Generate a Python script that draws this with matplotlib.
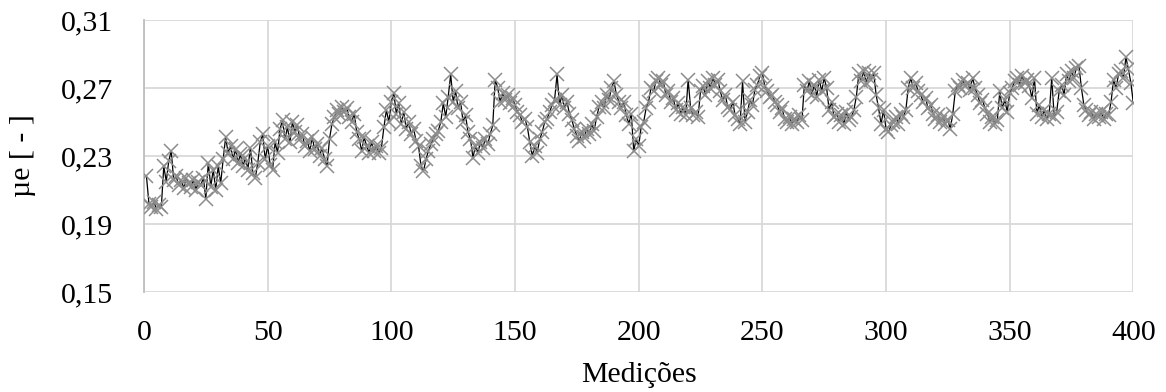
import numpy as np
import matplotlib
matplotlib.use("Agg")
import matplotlib.pyplot as plt
from matplotlib.ticker import FuncFormatter, MultipleLocator

mu_e = [
    0.218, 0.202, 0.200, 0.203, 0.199, 0.201, 0.200, 0.224, 0.215, 0.227,
    0.233, 0.216, 0.218, 0.213, 0.216, 0.211, 0.217, 0.214, 0.212, 0.216,
    0.210, 0.215, 0.213, 0.217, 0.205, 0.226, 0.212, 0.222, 0.210, 0.224,
    0.214, 0.228, 0.241, 0.232, 0.236, 0.228, 0.234, 0.226, 0.231, 0.224,
    0.229, 0.222, 0.235, 0.220, 0.217, 0.226, 0.238, 0.243, 0.228, 0.236,
    0.225, 0.222, 0.238, 0.232, 0.246, 0.251, 0.240, 0.247, 0.238, 0.250,
    0.244, 0.248, 0.240, 0.243, 0.236, 0.239, 0.233, 0.241, 0.234, 0.237,
    0.230, 0.235, 0.228, 0.224, 0.240, 0.249, 0.253, 0.257, 0.255, 0.259,
    0.256, 0.258, 0.253, 0.250, 0.255, 0.244, 0.240, 0.233, 0.241, 0.236,
    0.232, 0.238, 0.233, 0.236, 0.232, 0.235, 0.247, 0.257, 0.250, 0.262,
    0.267, 0.255, 0.261, 0.249, 0.256, 0.246, 0.250, 0.243, 0.246, 0.239,
    0.236, 0.224, 0.221, 0.228, 0.233, 0.237, 0.240, 0.243, 0.245, 0.250,
    0.261, 0.253, 0.265, 0.278, 0.262, 0.268, 0.258, 0.262, 0.250, 0.254,
    0.244, 0.240, 0.229, 0.236, 0.232, 0.238, 0.235, 0.240, 0.237, 0.243,
    0.248, 0.275, 0.270, 0.262, 0.267, 0.263, 0.266, 0.261, 0.264, 0.260,
    0.256, 0.254, 0.250, 0.252, 0.247, 0.238, 0.230, 0.236, 0.232, 0.240,
    0.244, 0.250, 0.252, 0.256, 0.260, 0.263, 0.278, 0.260, 0.266, 0.258,
    0.262, 0.255, 0.251, 0.246, 0.242, 0.239, 0.244, 0.241, 0.246, 0.243,
    0.249, 0.245, 0.253, 0.259, 0.262, 0.258, 0.266, 0.263, 0.270, 0.274,
    0.266, 0.262, 0.258, 0.262, 0.254, 0.249, 0.255, 0.233, 0.240, 0.236,
    0.247, 0.250, 0.258, 0.262, 0.270, 0.268, 0.274, 0.276, 0.272, 0.274,
    0.266, 0.268, 0.262, 0.264, 0.257, 0.261, 0.255, 0.259, 0.254, 0.275,
    0.258, 0.254, 0.256, 0.253, 0.268, 0.271, 0.266, 0.274, 0.270, 0.276,
    0.272, 0.275, 0.268, 0.263, 0.266, 0.259, 0.257, 0.262, 0.254, 0.252,
    0.249, 0.274, 0.250, 0.256, 0.263, 0.260, 0.269, 0.272, 0.277, 0.279,
    0.271, 0.268, 0.265, 0.266, 0.262, 0.260, 0.256, 0.258, 0.252, 0.250,
    0.253, 0.249, 0.252, 0.250, 0.254, 0.251, 0.272, 0.268, 0.274, 0.266,
    0.272, 0.265, 0.275, 0.268, 0.276, 0.270, 0.257, 0.262, 0.253, 0.255,
    0.250, 0.254, 0.249, 0.256, 0.251, 0.253, 0.257, 0.265, 0.278, 0.274,
    0.280, 0.273, 0.279, 0.275, 0.279, 0.266, 0.258, 0.249, 0.257, 0.246,
    0.244, 0.248, 0.250, 0.253, 0.249, 0.255, 0.253, 0.257, 0.270, 0.276,
    0.270, 0.273, 0.268, 0.266, 0.262, 0.264, 0.258, 0.260, 0.255, 0.252,
    0.254, 0.250, 0.253, 0.249, 0.251, 0.246, 0.255, 0.268, 0.272, 0.270,
    0.275, 0.271, 0.273, 0.269, 0.276, 0.270, 0.266, 0.261, 0.263, 0.258,
    0.255, 0.250, 0.253, 0.249, 0.251, 0.268, 0.258, 0.263, 0.256, 0.267,
    0.270, 0.274, 0.276, 0.272, 0.277, 0.273, 0.275, 0.271, 0.264, 0.276,
    0.255, 0.260, 0.253, 0.257, 0.252, 0.255, 0.276, 0.253, 0.256, 0.268,
    0.272, 0.266, 0.278, 0.274, 0.280, 0.276, 0.282, 0.283, 0.270, 0.260,
    0.257, 0.254, 0.256, 0.252, 0.255, 0.253, 0.256, 0.252, 0.255, 0.254,
    0.262, 0.275, 0.270, 0.278, 0.280, 0.276, 0.288, 0.281, 0.273, 0.261,
]
medicoes = np.arange(1, len(mu_e) + 1)

plt.rcParams['font.family'] = ['Liberation Serif', 'DejaVu Serif']

fig = plt.figure(figsize=(11.66, 3.92), dpi=100)
ax = fig.add_axes([0.1235, 0.255, 0.8485, 0.694])

ax.plot(medicoes, mu_e, color='black', linewidth=0.9, marker='x',
        markersize=10, markeredgecolor='#8c8c8c', markeredgewidth=1.1, zorder=3)

ax.set_xlim(0, 400)
ax.set_ylim(0.15, 0.31)
ax.xaxis.set_major_locator(MultipleLocator(50))
ax.set_yticks([0.15, 0.19, 0.23, 0.27, 0.31])
ax.yaxis.set_major_formatter(FuncFormatter(lambda v, p: f"{v:.2f}".replace('.', ',')))

ax.grid(True, color='#d9d9d9', linewidth=1.3)
ax.set_axisbelow(True)
for s in ax.spines.values():
    s.set_visible(False)
ax.spines['left'].set_visible(True)
ax.spines['left'].set_color('#bfbfbf')
ax.spines['left'].set_linewidth(1.3)
ax.tick_params(length=0, labelsize=21.5)
ax.tick_params(axis='y', pad=22)
ax.tick_params(axis='x', pad=20)

ax.set_xlabel('Medições', fontsize=21.5, labelpad=12)
ax.set_ylabel('µe [ - ]', fontsize=21.5, labelpad=18)

fig.savefig('out.png', dpi=100)
